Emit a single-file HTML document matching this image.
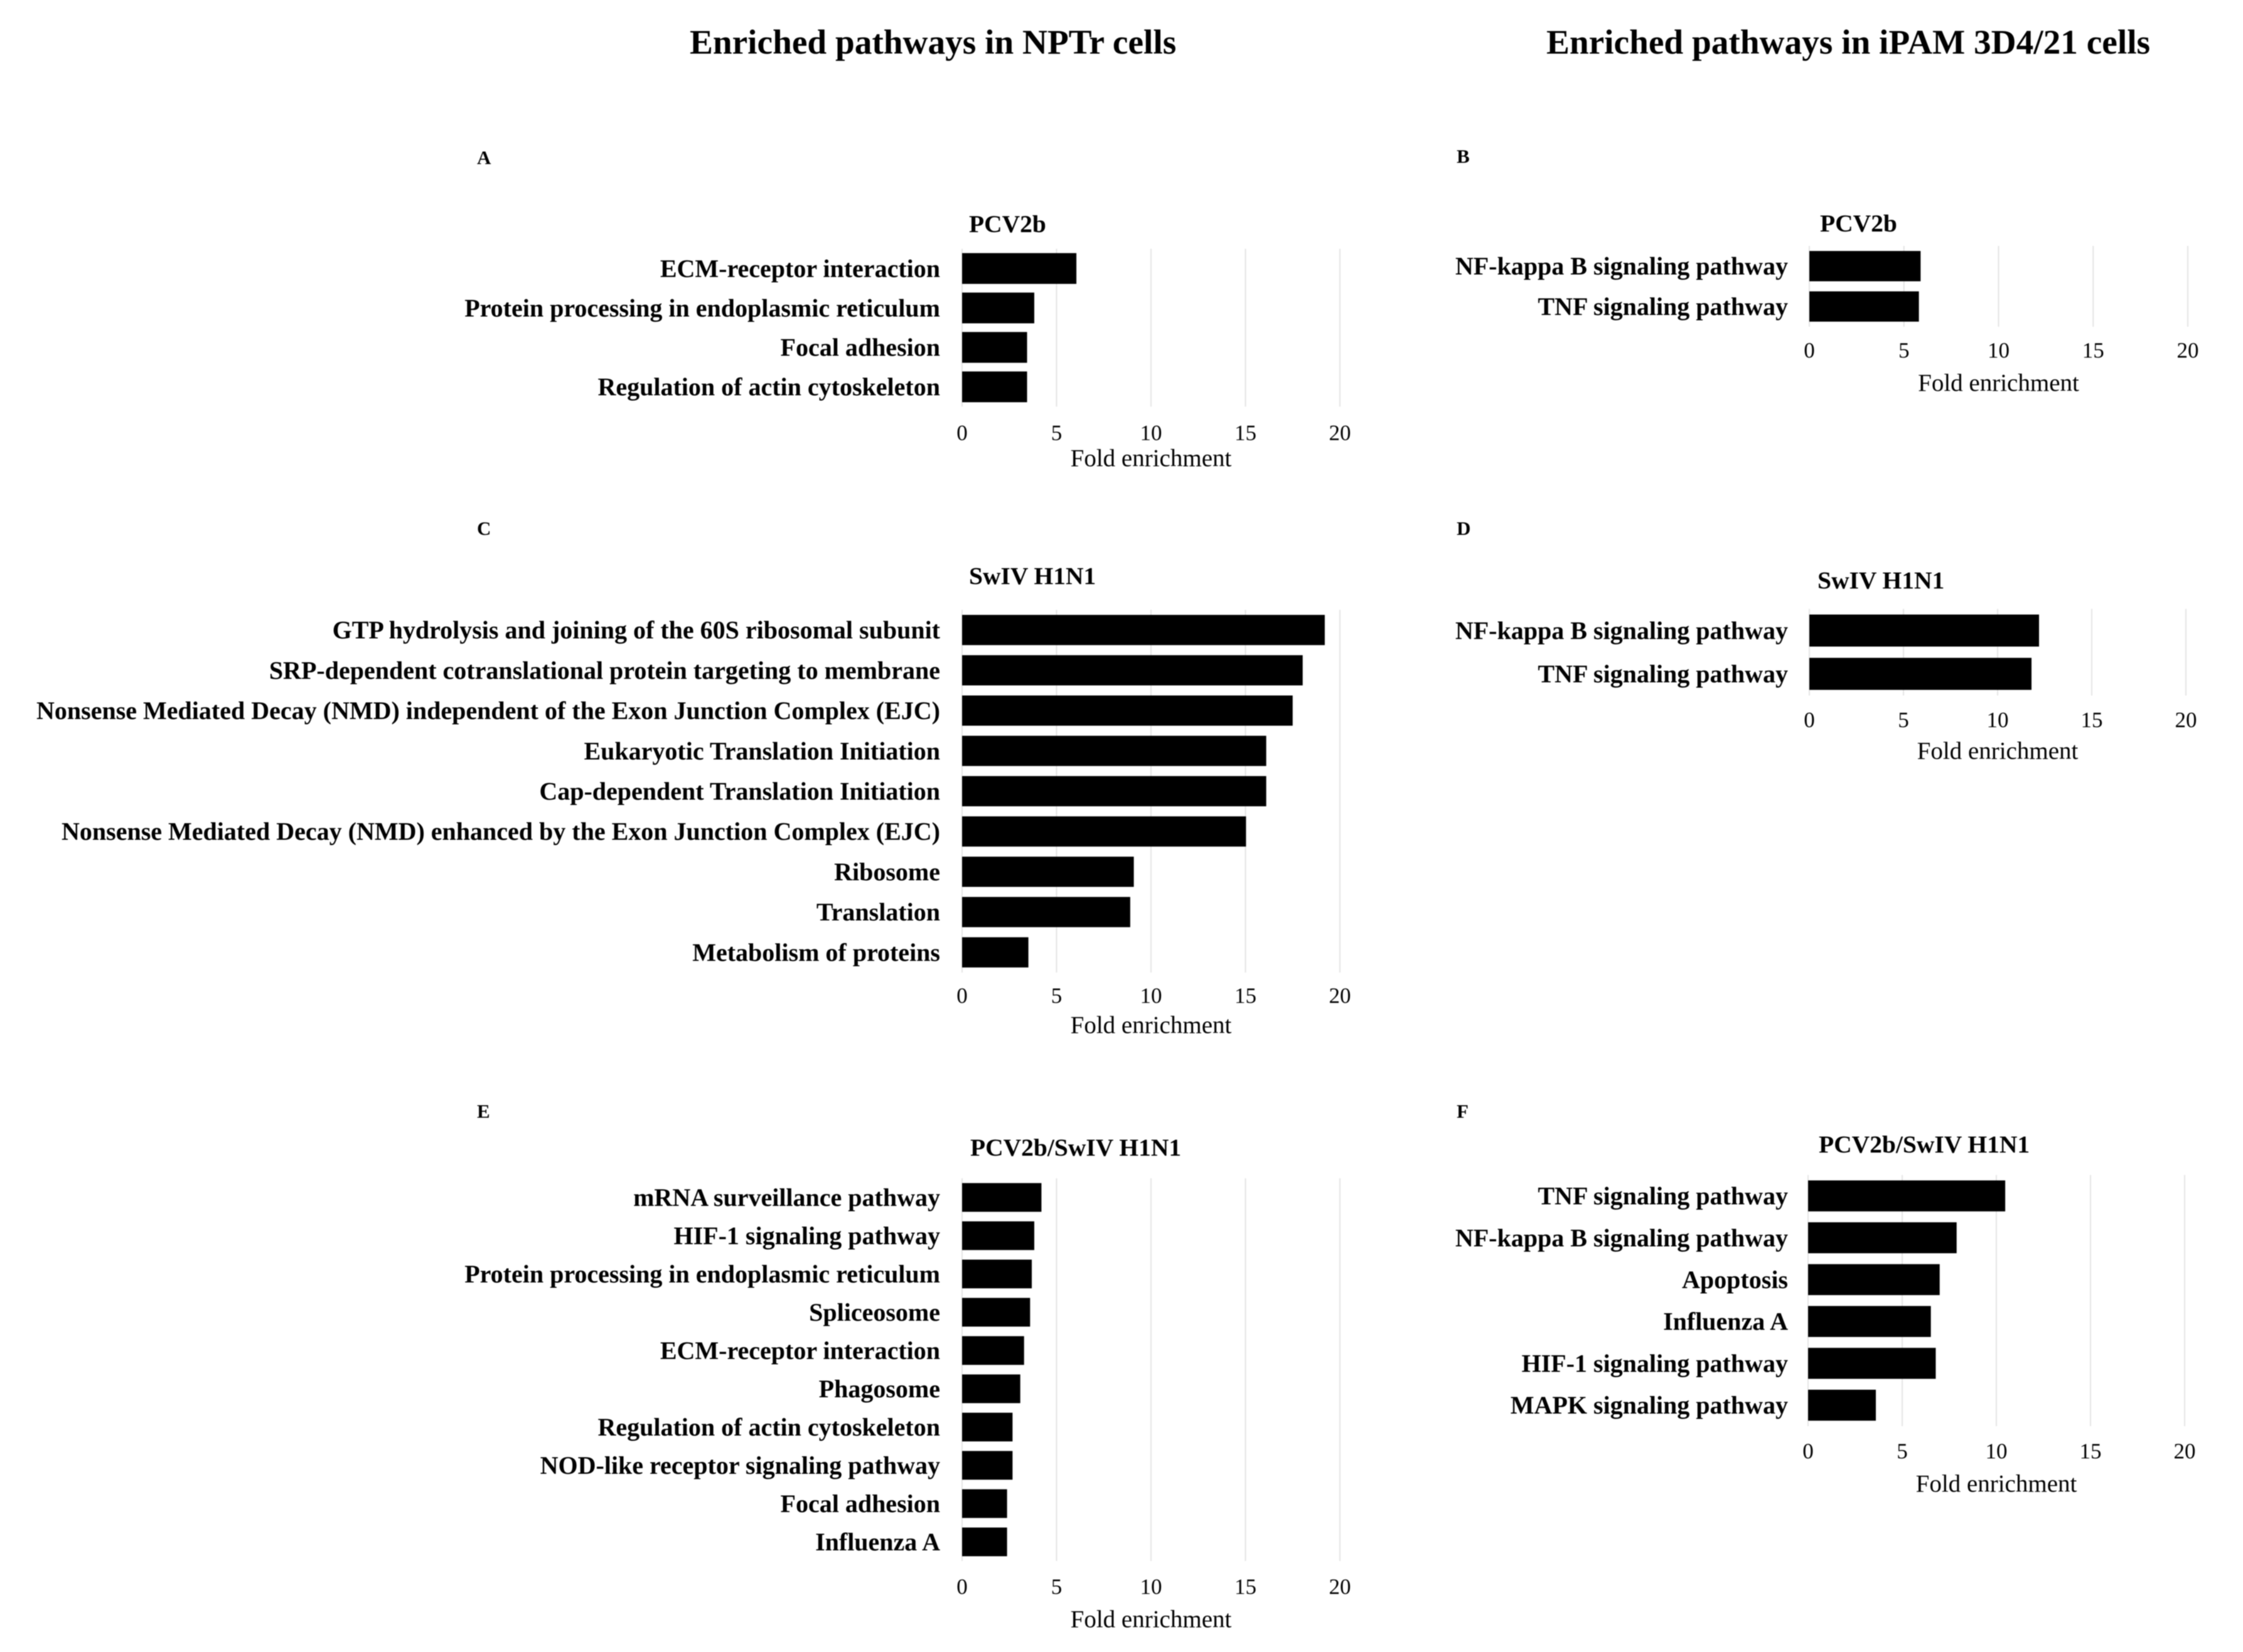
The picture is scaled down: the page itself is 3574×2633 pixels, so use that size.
<!DOCTYPE html>
<html lang="en">
<head>
<meta charset="utf-8">
<title>Enriched pathways</title>
<style>
html,body{margin:0;padding:0;background:#fff;}
svg{display:block;filter:blur(0.9px);}
text{font-family:"Liberation Serif",serif;fill:#000;}
.main{font-size:55.3px;font-weight:bold;dominant-baseline:central;}
.letter{font-size:31px;font-weight:bold;dominant-baseline:central;}
.ptitle{font-size:39.5px;font-weight:bold;dominant-baseline:central;}
.cat{font-size:40px;font-weight:bold;text-anchor:end;dominant-baseline:central;}
.tick{font-size:35px;text-anchor:middle;dominant-baseline:central;}
.axt{font-size:39px;text-anchor:middle;dominant-baseline:central;}
</style>
</head>
<body>
<svg id="figure" xmlns="http://www.w3.org/2000/svg" width="3574" height="2633" viewBox="0 0 3574 2633">
  <rect x="0" y="0" width="3574" height="2633" fill="#fff"/>
  <text class="main" x="1099" y="67">Enriched pathways in NPTr cells</text>
  <text class="main" x="2464" y="67">Enriched pathways in iPAM 3D4/21 cells</text>
</svg>
<script>
const tickLabels = [0, 5, 10, 15, 20];
const axisLabel = "Fold enrichment";

const categoriesA = ["ECM-receptor interaction", "Protein processing in endoplasmic reticulum", "Focal adhesion", "Regulation of actin cytoskeleton"];
const valuesA = [6.05, 3.82, 3.44, 3.44];

const categoriesB = ["NF-kappa B signaling pathway", "TNF signaling pathway"];
const valuesB = [5.88, 5.79];

const categoriesC = ["GTP hydrolysis and joining of the 60S ribosomal subunit", "SRP-dependent cotranslational protein targeting to membrane", "Nonsense Mediated Decay (NMD) independent of the Exon Junction Complex (EJC)", "Eukaryotic Translation Initiation", "Cap-dependent Translation Initiation", "Nonsense Mediated Decay (NMD) enhanced by the Exon Junction Complex (EJC)", "Ribosome", "Translation", "Metabolism of proteins"];
const valuesC = [19.2, 18.03, 17.5, 16.1, 16.1, 15.03, 9.09, 8.9, 3.51];

const categoriesD = ["NF-kappa B signaling pathway", "TNF signaling pathway"];
const valuesD = [12.2, 11.8];

const categoriesE = ["mRNA surveillance pathway", "HIF-1 signaling pathway", "Protein processing in endoplasmic reticulum", "Spliceosome", "ECM-receptor interaction", "Phagosome", "Regulation of actin cytoskeleton", "NOD-like receptor signaling pathway", "Focal adhesion", "Influenza A"];
const valuesE = [4.2, 3.82, 3.69, 3.6, 3.28, 3.08, 2.67, 2.67, 2.38, 2.38];

const categoriesF = ["TNF signaling pathway", "NF-kappa B signaling pathway", "Apoptosis", "Influenza A", "HIF-1 signaling pathway", "MAPK signaling pathway"];
const valuesF = [10.47, 7.89, 6.99, 6.52, 6.78, 3.6];

const panelA = {id:"a", letter:"A", title:"PCV2b", cats:categoriesA, vals:valuesA};
const panelB = {id:"b", letter:"B", title:"PCV2b", cats:categoriesB, vals:valuesB};
const panelC = {id:"c", letter:"C", title:"SwIV H1N1", cats:categoriesC, vals:valuesC};
const panelD = {id:"d", letter:"D", title:"SwIV H1N1", cats:categoriesD, vals:valuesD};
const panelE = {id:"e", letter:"E", title:"PCV2b/SwIV H1N1", cats:categoriesE, vals:valuesE};
const panelF = {id:"f", letter:"F", title:"PCV2b/SwIV H1N1", cats:categoriesF, vals:valuesF};

/* Page geometry for each panel, separate from the data above */
const layoutA = {left:1533, right:2135, top:396.5, bottom:648, frac:.78, tickY:690, axisY:730.5, titleX:1544, titleY:357, letterX:760, letterY:251, catX:1498};
const layoutB = {left:2883, right:3486, top:392, bottom:520.7, frac:.75, tickY:558.5, axisY:610.5, titleX:2900, titleY:356, letterX:2321, letterY:249, catX:2849};
const layoutC = {left:1533, right:2135, top:972, bottom:1550, frac:.75, tickY:1587, axisY:1634, titleX:1544, titleY:918, letterX:760, letterY:842, catX:1498};
const layoutD = {left:2883, right:3483, top:970.5, bottom:1108.5, frac:.74, tickY:1147.5, axisY:1197, titleX:2896, titleY:925, letterX:2321, letterY:842, catX:2849};
const layoutE = {left:1533, right:2135, top:1878, bottom:2488, frac:.75, tickY:2529, axisY:2581, titleX:1546, titleY:1829, letterX:760, letterY:1771, catX:1498};
const layoutF = {left:2881, right:3481, top:1872.7, bottom:2273, frac:.74, tickY:2313, axisY:2365, titleX:2898, titleY:1824, letterX:2321, letterY:1771, catX:2849};

const NS = "http://www.w3.org/2000/svg";
const svg = document.getElementById("figure");
const DOMAIN_MAX = 20;

function makeEl(tag, attrs, text) {
  const el = document.createElementNS(NS, tag);
  for (const k in attrs) el.setAttribute(k, attrs[k]);
  if (text !== undefined) el.textContent = String(text);
  return el;
}

function drawPanel(panel, lay) {
  const xScale = v => lay.left + (v / DOMAIN_MAX) * (lay.right - lay.left);
  const band = (lay.bottom - lay.top) / panel.cats.length;
  const yScale = i => lay.top + band * (i + 0.5);
  const barH = band * lay.frac;

  const g = makeEl("g", {});
  
  
  svg.appendChild(g);

  const letter = makeEl("text", {class:"letter", x:lay.letterX, y:lay.letterY}, panel.letter);
  
  
  g.appendChild(letter);

  const title = makeEl("text", {class:"ptitle", x:lay.titleX, y:lay.titleY}, panel.title);
  
  
  g.appendChild(title);

  tickLabels.forEach(t => {
    const line = makeEl("line", {x1:xScale(t), x2:xScale(t), y1:lay.top, y2:lay.bottom, stroke:"#e4e4e4", "stroke-width":2});
    
    
    g.appendChild(line);

    const label = makeEl("text", {class:"tick", x:xScale(t), y:lay.tickY}, t);
    
    
    g.appendChild(label);
  });

  panel.cats.forEach((c, i) => {
    const cat = makeEl("text", {class:"cat", x:lay.catX, y:yScale(i)}, c);
    
    
    g.appendChild(cat);

    const bar = makeEl("rect", {x:xScale(0), y:yScale(i) - barH / 2, width:xScale(panel.vals[i]) - xScale(0), height:barH, fill:"#000"});
    
    
    g.appendChild(bar);
  });

  const axt = makeEl("text", {class:"axt", x:xScale(10), y:lay.axisY}, axisLabel);
  
  
  g.appendChild(axt);
}

drawPanel(panelA, layoutA);
drawPanel(panelB, layoutB);
drawPanel(panelC, layoutC);
drawPanel(panelD, layoutD);
drawPanel(panelE, layoutE);
drawPanel(panelF, layoutF);
</script>
</body>
</html>
